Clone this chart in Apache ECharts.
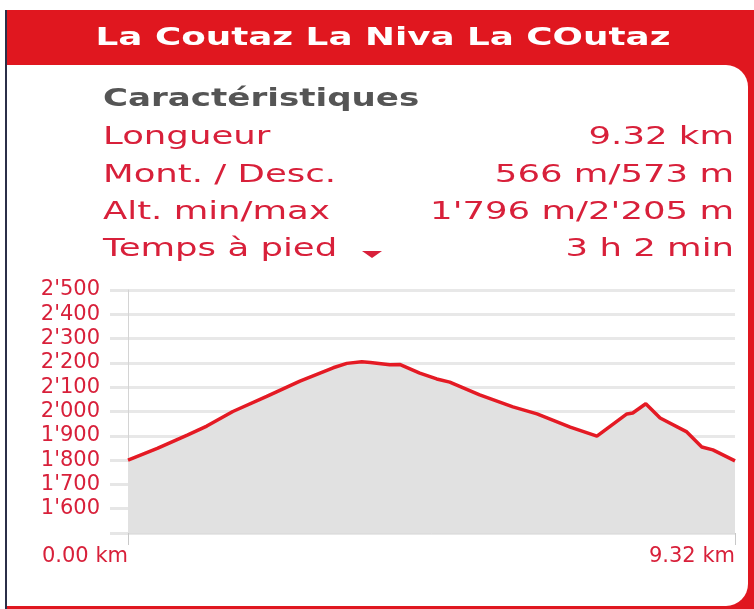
<!DOCTYPE html>
<html>
<head>
<meta charset="utf-8">
<script src="https://cdn.jsdelivr.net/npm/echarts@6/dist/echarts.min.js"></script>
<style>
  html, body { margin: 0; padding: 0; background: #fff; }
  #profil { width: 754px; height: 609px; }
</style>
</head>
<body>
<div id="profil"></div>
<script>
/* données du profil */
const titre = 'La Coutaz La Niva La COutaz';
const libelles = ['Longueur', 'Mont. / Desc.', 'Alt. min/max', 'Temps à pied'];
const valeurs = ['9.32 km', '566 m/573 m', "1'796 m/2'205 m", '3 h 2 min'];

// distance (km) / altitude (m)
const distances = [0, 0.45, 0.91, 1.21, 1.61, 2.13, 2.64, 3.15, 3.36, 3.59, 3.72, 4.02, 4.18,
  4.48, 4.74, 4.94, 5.40, 5.91, 6.28, 6.79, 7.20, 7.66, 7.75, 7.95, 8.17, 8.58, 8.81, 8.98, 9.32];
const altitudes = [1800, 1848, 1903, 1940, 2000, 2062, 2125, 2180, 2198, 2205, 2202, 2192, 2193,
  2158, 2134, 2121, 2068, 2019, 1990, 1936, 1899, 1990, 1994, 2032, 1973, 1916, 1854, 1842, 1797];

const longueur = 9.32;

const rouge = '#d8203a';
const sx = 1.42; // le texte de la capture est étiré en largeur

function milliers(v) {
  if (v < 1000) return String(v);
  const r = String(v % 1000).padStart(3, '0');
  return Math.floor(v / 1000) + "'" + r;
}

const chart = echarts.init(document.getElementById('profil'));

/* éléments du cadre et des textes */
const graphics = [
  { type: 'rect', z: -10, shape: { x: 5, y: 10, width: 749, height: 599 }, style: { fill: '#e0171f' } },
  { type: 'rect', z: -9, shape: { x: 7, y: 65, width: 741, height: 541, r: [0, 22, 22, 0] }, style: { fill: '#fff' } },
  { type: 'line', z: -8, shape: { x1: 6, y1: 10, x2: 6, y2: 609 }, style: { stroke: '#2b2f48', lineWidth: 2 } },
  {
    type: 'text', x: 383, y: 38, scaleX: 1.43,
    style: { text: titre, fill: '#fff', font: 'bold 25px "DejaVu Sans"', align: 'center', verticalAlign: 'middle' }
  },
  {
    type: 'text', x: 103, y: 100, scaleX: sx,
    style: { text: 'Caractéristiques', fill: '#555', font: 'bold 24px "DejaVu Sans"', align: 'left', verticalAlign: 'middle' }
  },
  // petite flèche du menu "Temps à pied"
  { type: 'polygon', shape: { points: [[362, 251], [382, 251], [372, 258]] }, style: { fill: rouge } }
];
const lignesY = [137, 175, 212, 249];
libelles.forEach(function (txt, i) {
  graphics.push({
    type: 'text', x: 103, y: lignesY[i], scaleX: sx,
    style: { text: txt, fill: rouge, font: '25px "DejaVu Sans"', align: 'left', verticalAlign: 'middle' }
  });
  graphics.push({
    type: 'text', x: 734, y: lignesY[i], scaleX: sx,
    style: { text: valeurs[i], fill: rouge, font: '25px "DejaVu Sans"', align: 'right', verticalAlign: 'middle' }
  });
});

chart.setOption({
  animation: false,
  graphic: graphics,
  grid: { left: 128, right: 19, top: 290, bottom: 76 },
  xAxis: {
    type: 'value',
    min: 0,
    max: longueur,
    interval: longueur,
    axisLine: { show: true, lineStyle: { color: '#dcdcdc', width: 1 } },
    axisTick: { show: true, length: 12, lineStyle: { color: '#c8c8c8' } },
    splitLine: { show: false },
    axisLabel: {
      color: rouge, fontSize: 21, fontFamily: 'DejaVu Sans', align: 'right', margin: 13,
      formatter: function (v) { return v.toFixed(2) + ' km'; }
    }
  },
  yAxis: {
    type: 'value',
    min: 1500,
    max: 2500,
    interval: 100,
    axisLine: { show: true, lineStyle: { color: '#d4d4d4', width: 1 } },
    axisTick: { show: true, length: 18, lineStyle: { color: '#e6e6e6', width: 3 } },
    splitLine: { show: true, lineStyle: { color: '#e8e8e8', width: 3 } },
    axisLabel: {
      color: rouge, fontSize: 21, fontFamily: 'DejaVu Sans', margin: 28,
      formatter: function (v) { return v === 1500 ? '' : milliers(v); }
    }
  },
  series: [{
    type: 'line',
    data: distances.map(function (d, i) { return [d, altitudes[i]]; }),
    symbol: 'none',
    lineStyle: { color: '#e41a24', width: 3.5 },
    areaStyle: { color: '#e1e1e1', opacity: 1, origin: 'start' },
    z: 3
  }]
});
</script>
</body>
</html>
